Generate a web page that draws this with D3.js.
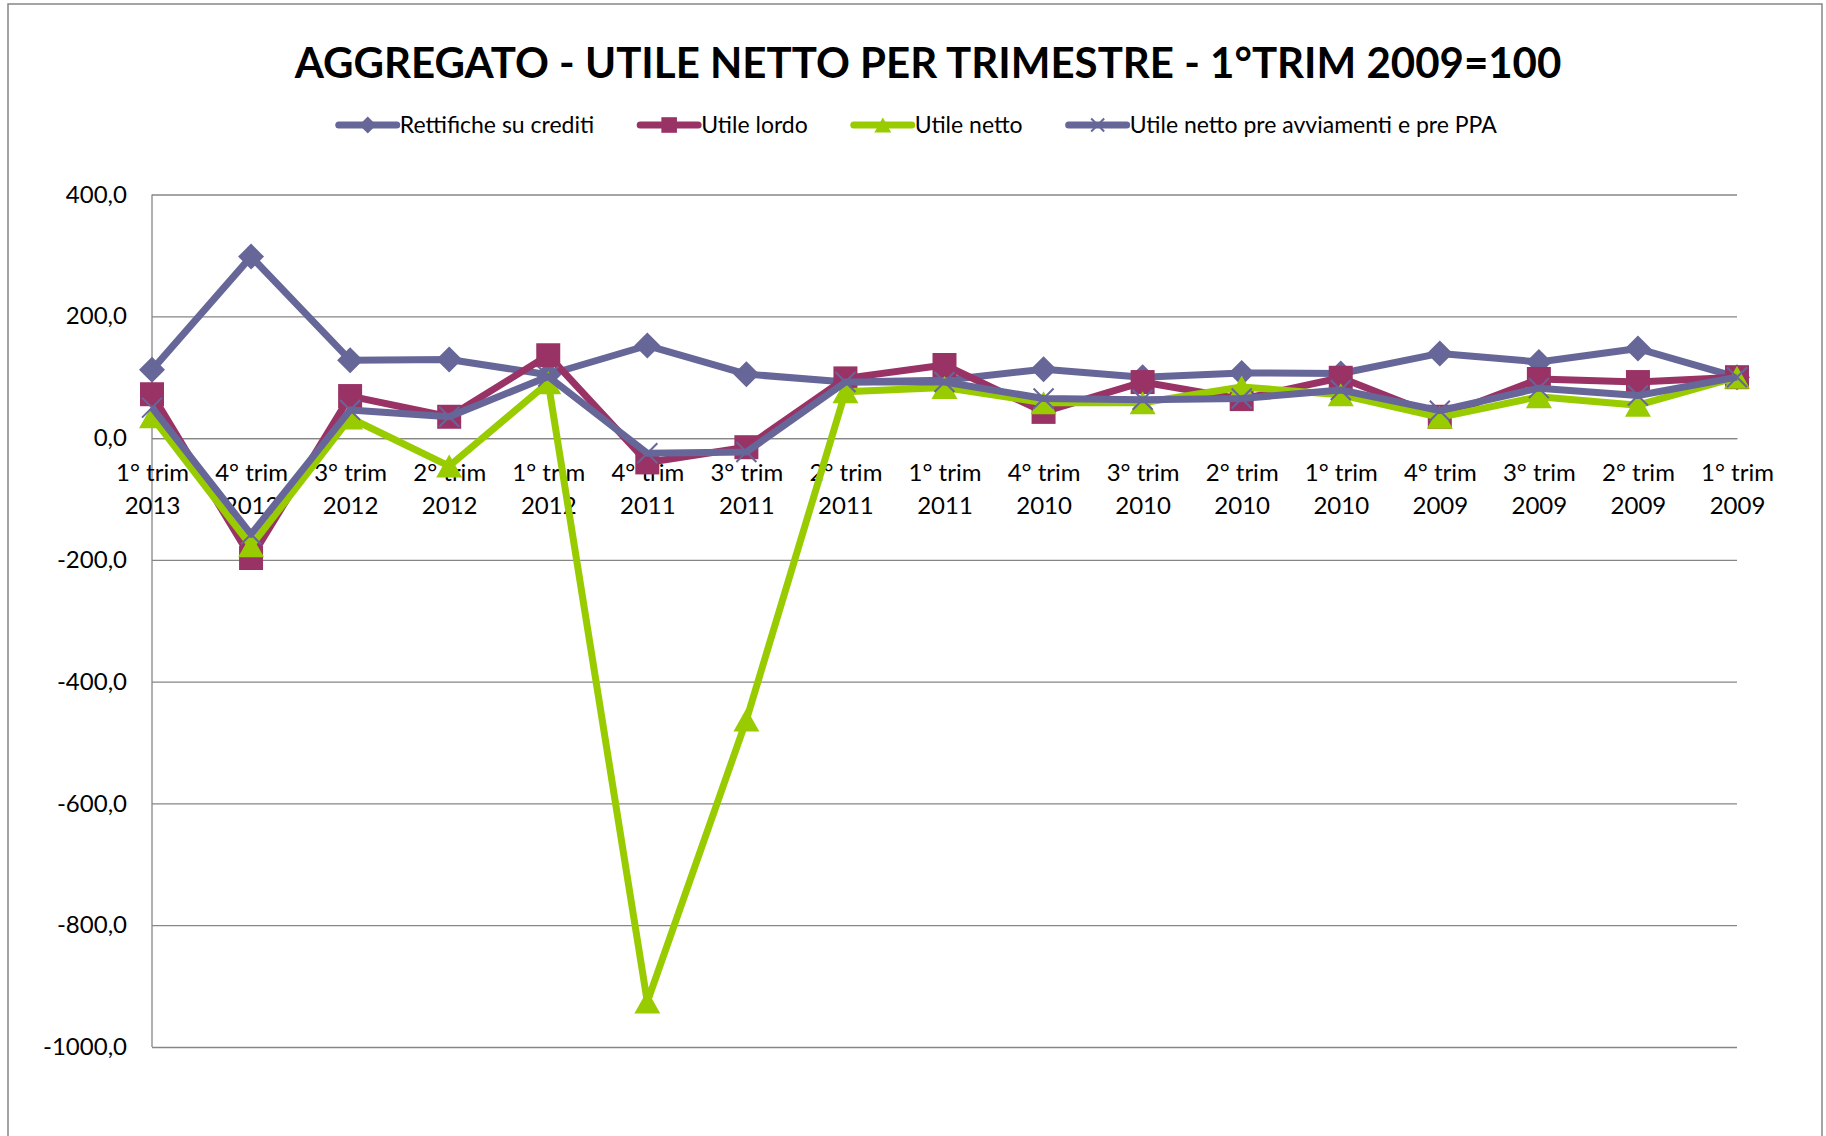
<!DOCTYPE html>
<html>
<head>
<meta charset="utf-8">
<script src="https://cdn.jsdelivr.net/npm/d3@7"></script>
<style>
  body { margin: 0; background: #fff; }
  svg { display: block; font-family: Lato, "Open Sans", sans-serif; }
</style>
</head>
<body>
<div id="chart"></div>
<script>
const categories = [
  "1° trim 2013", "4° trim 2012", "3° trim 2012", "2° trim 2012", "1° trim 2012",
  "4° trim 2011", "3° trim 2011", "2° trim 2011", "1° trim 2011",
  "4° trim 2010", "3° trim 2010", "2° trim 2010", "1° trim 2010",
  "4° trim 2009", "3° trim 2009", "2° trim 2009", "1° trim 2009"
];
const seriesNames = [
  "Rettifiche su crediti", "Utile lordo", "Utile netto", "Utile netto pre avviamenti e pre PPA"
];
const rettifiche = [112, 298, 128, 129, 104, 152, 105, 92, 95, 113, 100, 107, 106, 139, 125, 147, 100];
const utileLordo = [72, -197, 69, 35, 136, -40, -15, 98, 120, 43, 92, 64, 99, 35, 97, 92, 100];
const utileNetto = [35, -177, 33, -46, 91, -926, -463, 76, 83, 58, 58, 84, 71, 34, 68, 54, 100];
const utileNettoPre = [50, -158, 46, 35, 101, -25, -23, 92, 92, 65, 63, 65, 79, 45, 82, 70, 100];
const yTicks = [400, 200, 0, -200, -400, -600, -800, -1000];

const width = 1826;
const height = 1136;
const marginLeft = 152;
const plotRight = 1737;
const plotTop = 194.5;
const plotBottom = 1047;

const colors = ["#666699", "#993366", "#99cc00", "#666699"];
const markers = ["diamond", "square", "triangle", "cross"];
const allSeries = [rettifiche, utileLordo, utileNetto, utileNettoPre];

const svg = d3.select("#chart")
  .append("svg")
  .attr("width", width)
  .attr("height", height);

// chart frame
svg.append("rect")
  .attr("x", 8).attr("y", 4)
  .attr("width", 1814).attr("height", 1150)
  .attr("fill", "#fff")
  .attr("stroke", "#868686")
  .attr("stroke-width", 1.5);

const x = d3.scalePoint()
  .domain(categories)
  .range([marginLeft, plotRight]);

const y = d3.scaleLinear()
  .domain([-1000, 400])
  .range([plotBottom, plotTop]);

const locale = d3.formatLocale({ decimal: ",", thousands: "", grouping: [3], currency: ["", "€"], minus: "-" });
const fmt = locale.format(".1f");

// gridlines + y labels
svg.append("g")
  .attr("transform", `translate(${marginLeft},0)`)
  .call(d3.axisLeft(y).tickValues(yTicks).tickFormat(fmt)
    .tickSize(-(plotRight - marginLeft)).tickPadding(25))
  .call(g => g.select(".domain").remove())
  .call(g => g.selectAll(".tick line").attr("stroke", "#868686").attr("stroke-width", 1.3))
  .call(g => g.selectAll(".tick text")
    .attr("fill", "#000")
    .style("font-size", "24px")
    .style("font-family", "Lato, sans-serif"));

// vertical axis line
svg.append("line")
  .attr("x1", marginLeft).attr("x2", marginLeft)
  .attr("y1", plotTop).attr("y2", plotBottom)
  .attr("stroke", "#868686").attr("stroke-width", 1.3);

// category axis at zero
const xAxis = svg.append("g")
  .attr("transform", `translate(0,${y(0)})`)
  .call(d3.axisBottom(x).tickSize(0).tickFormat(""))
  .call(g => g.select(".domain").attr("stroke", "#868686").attr("stroke-width", 1.3));

xAxis.selectAll(".tick text").remove();
xAxis.selectAll(".tick")
  .append("text")
  .attr("fill", "#000")
  .attr("text-anchor", "middle")
  .style("font-size", "24px")
  .style("font-family", "Lato, sans-serif")
  .each(function (d) {
    const parts = d.split(" ");
    const t = d3.select(this);
    t.append("tspan").attr("x", 0).attr("y", 35).attr("dy", "0.35em").text(parts[0] + " " + parts[1]);
    t.append("tspan").attr("x", 0).attr("y", 68).attr("dy", "0.35em").text(parts[2]);
  });

function markerPath(type, s) {
  if (type === "diamond") {
    const r = 13 * s;
    return `M0,${-r}L${r},0L0,${r}L${-r},0Z`;
  }
  if (type === "square") {
    const r = 12 * s;
    return `M${-r},${-r}H${r}V${r}H${-r}Z`;
  }
  if (type === "triangle") {
    const w = 13 * s, h = 11.5 * s;
    return `M0,${-h}L${w},${h}L${-w},${h}Z`;
  }
  const r = 10 * s;
  return `M${-r},${-r}L${r},${r}M${r},${-r}L${-r},${r}`;
}

function drawMarker(sel, type, color, s) {
  if (type === "cross") {
    sel.attr("d", markerPath(type, s)).attr("fill", "none")
      .attr("stroke", color).attr("stroke-width", 2);
  } else {
    sel.attr("d", markerPath(type, s)).attr("fill", color).attr("stroke", "none");
  }
}

const line = d3.line()
  .x((d, i) => x(categories[i]))
  .y(d => y(d));

allSeries.forEach((values, k) => {
  const g = svg.append("g");
  g.append("path")
    .datum(values)
    .attr("fill", "none")
    .attr("stroke", colors[k])
    .attr("stroke-width", 7)
    .attr("stroke-linejoin", "round")
    .attr("d", line);
  g.selectAll("path.mk")
    .data(values)
    .join("path")
    .attr("class", "mk")
    .attr("transform", (d, i) => `translate(${x(categories[i])},${y(d)})`)
    .call(sel => drawMarker(sel, markers[k], colors[k], 1));
});

// title
svg.append("text")
  .attr("x", 928)
  .attr("y", 63)
  .attr("dy", "0.35em")
  .attr("text-anchor", "middle")
  .style("font-size", "42px")
  .style("font-weight", "bold")
  .style("font-family", "Lato, sans-serif")
  .text("AGGREGATO - UTILE NETTO PER TRIMESTRE - 1°TRIM 2009=100");

// legend
const legendY = 125;
const swatchW = 58;
const gap = 46;
const legend = svg.append("g");
const items = legend.selectAll("g")
  .data(seriesNames)
  .join("g");
items.append("line")
  .attr("x1", 0).attr("x2", swatchW)
  .attr("y1", 0).attr("y2", 0)
  .attr("stroke", (d, i) => colors[i])
  .attr("stroke-width", 7)
  .attr("stroke-linecap", "round");
items.append("path")
  .attr("transform", `translate(${swatchW / 2},0)`)
  .each(function (d, i) { drawMarker(d3.select(this), markers[i], colors[i], 0.65); });
items.append("text")
  .attr("x", swatchW + 3)
  .attr("dy", "0.35em")
  .style("font-size", "23px")
  .style("font-family", "Lato, sans-serif")
  .text(d => d);

let widths = [];
items.each(function () { widths.push(this.getBBox().width); });
const total = d3.sum(widths) + gap * (widths.length - 1);
let cx = 918 - total / 2;
items.attr("transform", (d, i) => {
  const t = `translate(${cx},${legendY})`;
  cx += widths[i] + gap;
  return t;
});
</script>
</body>
</html>
